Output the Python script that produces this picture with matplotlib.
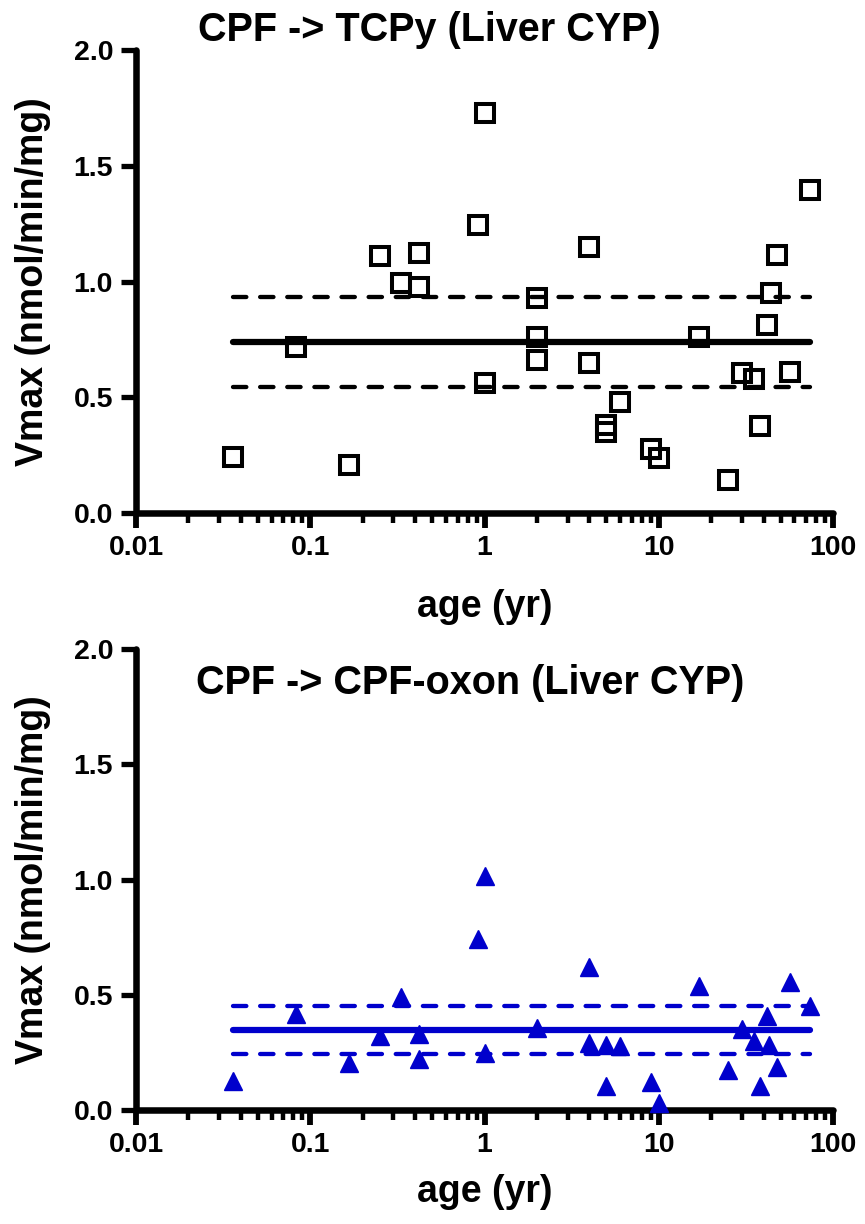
import matplotlib
matplotlib.use("Agg")
import matplotlib.pyplot as plt
from matplotlib.ticker import LogLocator, FixedLocator, NullFormatter, FuncFormatter

plt.rcParams['font.family'] = ['Liberation Sans', 'DejaVu Sans']
plt.rcParams['font.weight'] = 'bold'

# ---------------- data ----------------
age_tcpy = [0.036, 0.083, 0.167, 0.25, 0.33, 0.42, 0.42, 0.92, 1.0, 1.0,
            2, 2, 2, 4, 4, 5, 5, 6, 9, 10,
            17, 25, 30, 35, 38, 42, 44, 47.5, 57, 74]
vmax_tcpy = [0.243, 0.715, 0.207, 1.111, 0.992, 1.122, 0.978, 1.244, 1.727, 0.560,
             0.927, 0.762, 0.661, 1.150, 0.647, 0.380, 0.351, 0.481, 0.275, 0.239,
             0.762, 0.143, 0.603, 0.579, 0.376, 0.812, 0.949, 1.114, 0.610, 1.395]
mean_tcpy = 0.737
ci_tcpy = [0.544, 0.933]

age_oxon = [0.036, 0.083, 0.167, 0.25, 0.33, 0.42, 0.42, 0.92, 1.0, 1.0,
            2, 4, 4, 5, 5, 6, 9, 10, 17, 25,
            30, 35, 38, 42, 43, 47.5, 57, 74]
vmax_oxon = [0.127, 0.415, 0.202, 0.321, 0.490, 0.331, 0.223, 0.742, 1.016, 0.248,
             0.356, 0.620, 0.291, 0.281, 0.105, 0.277, 0.120, 0.029, 0.540, 0.173,
             0.350, 0.300, 0.105, 0.408, 0.281, 0.187, 0.555, 0.451]
mean_oxon = 0.345
ci_oxon = [0.242, 0.450]

titles = ["CPF -> TCPy (Liver CYP)", "CPF -> CPF-oxon (Liver CYP)"]
xlabel = "age (yr)"
ylabel = "Vmax (nmol/min/mg)"
xticks = [0.01, 0.1, 1, 10, 100]
xticklabels = ["0.01", "0.1", "1", "10", "100"]
yticks = [0.0, 0.5, 1.0, 1.5, 2.0]
yticklabels = ["0.0", "0.5", "1.0", "1.5", "2.0"]

BLUE = '#0000CC'

W, H = 865, 1224
fig = plt.figure(figsize=(W / 100, H / 100), dpi=100)

def px_axes(left, top, right, bottom):
    return fig.add_axes([left / W, 1 - bottom / H, (right - left) / W, (bottom - top) / H])

ax1 = px_axes(136, 50, 833, 513)
ax2 = px_axes(136, 649, 833, 1110)

def style(ax, xlab_y):
    ax.set_xscale('log')
    ax.set_xlim(0.01, 100)
    ax.set_ylim(0, 2.0)
    for s in ['top', 'right']:
        ax.spines[s].set_visible(False)
    for s in ['left', 'bottom']:
        ax.spines[s].set_linewidth(4.7)
        ax.spines[s].set_capstyle('round')
    ax.xaxis.set_major_locator(FixedLocator(xticks))
    ax.set_xticklabels(xticklabels)
    ax.xaxis.set_minor_locator(LogLocator(base=10, subs=range(2, 10)))
    ax.xaxis.set_minor_formatter(NullFormatter())
    ax.set_yticks(yticks)
    ax.set_yticklabels(yticklabels)
    ax.tick_params(axis='x', which='major', direction='out', length=11, width=4.2,
                   labelsize=20.5, pad=5)
    ax.tick_params(axis='x', which='minor', direction='out', length=7, width=3.2)
    ax.tick_params(axis='y', which='major', direction='out', length=11, width=3.8,
                   labelsize=20.5, pad=5.5)
    for lab in ax.get_xticklabels() + ax.get_yticklabels():
        lab.set_fontweight('bold')
    ax.set_xlabel(xlabel, fontsize=27, fontweight='bold')
    ax.set_ylabel(ylabel, fontsize=27, fontweight='bold')
    ax.xaxis.set_label_coords(0.5, xlab_y)
    ax.xaxis.label.set_va('center')
    ax.yaxis.set_label_coords(-0.1478, 0.5)
    ax.yaxis.label.set_va('center')
    ax.patch.set_visible(False)

def mean_lines(ax, ages, mean, ci, color):
    x0, x1 = min(ages), max(ages)
    ax.plot([x0, x1], [mean, mean], color=color, lw=4.5, solid_capstyle='round', zorder=2)
    for c in ci:
        ln, = ax.plot([x0, x1], [c, c], color=color, lw=3.1, zorder=2,
                      dash_capstyle='round')
        ln.set_dashes((3.1, 3.2))

# top panel
style(ax1, (513 - 607) / 463)
mean_lines(ax1, age_tcpy, mean_tcpy, ci_tcpy, 'black')
ax1.plot(age_tcpy, vmax_tcpy, linestyle='none', marker='s', ms=13, mew=2.9,
         mfc='none', mec='black', zorder=5, clip_on=False)

# bottom panel
style(ax2, (1110 - 1192) / 461)
mean_lines(ax2, age_oxon, mean_oxon, ci_oxon, BLUE)
ax2.plot(age_oxon, vmax_oxon, linestyle='none', marker='^', ms=13, mew=1,
         mfc=BLUE, mec=BLUE, zorder=5, clip_on=False)

fig.text(429 / W, 1 - 30 / H, titles[0], ha='center', va='center',
         fontsize=28.5, fontweight='bold')
fig.text(470 / W, 1 - 683 / H, titles[1], ha='center', va='center',
         fontsize=28.5, fontweight='bold')

fig.savefig('out.png', dpi=100)
